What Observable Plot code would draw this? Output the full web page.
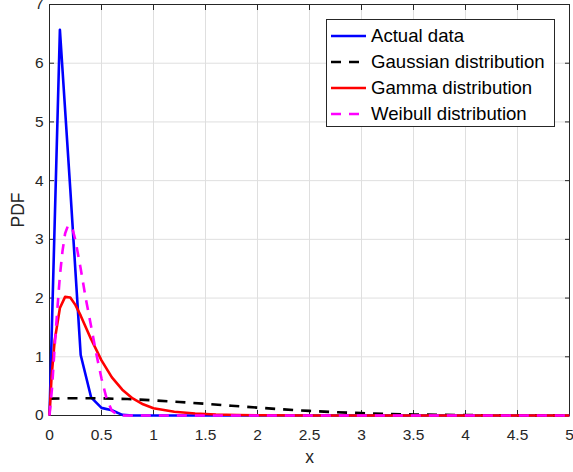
<!DOCTYPE html>
<html><head><meta charset="utf-8">
<script src="https://cdn.jsdelivr.net/npm/d3@7"></script>
<script src="https://cdn.jsdelivr.net/npm/@observablehq/plot@0.6"></script>
<style>
body{margin:0;background:#fff;font-family:"Liberation Sans",Arial,sans-serif;}
#wrap{position:relative;width:573px;height:472px;overflow:hidden;}
#legend{position:absolute;left:326px;top:19px;width:227px;height:106px;border:1px solid #262626;background:#fff;}
.row{position:absolute;left:0;height:26px;display:flex;align-items:center;font-size:18.6px;color:#000;white-space:nowrap;}
.row svg{margin-left:4px;margin-right:4px;}
</style></head><body><div id="wrap"></div>
<script>
// ---- data ----
const xTicks = [0, 0.5, 1, 1.5, 2, 2.5, 3, 3.5, 4, 4.5, 5];
const xTickLabels = ["0", "0.5", "1", "1.5", "2", "2.5", "3", "3.5", "4", "4.5", "5"];
const yTicks = [0, 1, 2, 3, 4, 5, 6, 7];
const yTickLabels = ["0", "1", "2", "3", "4", "5", "6", "7"];

const seriesNames = ["Actual data", "Gaussian distribution", "Gamma distribution", "Weibull distribution"];

const actualX = [0, 0.1, 0.2, 0.3, 0.4, 0.5, 0.6, 0.7, 0.8, 1, 1.5, 2, 2.5, 3, 3.5, 4, 4.5, 5];
const actualY = [0, 6.57, 3.85, 1.03, 0.31, 0.13, 0.09, 0.01, 0, 0, 0, 0, 0, 0, 0, 0, 0, 0];

const gaussX = [0, 0.25, 0.5, 0.75, 1, 1.25, 1.5, 1.75, 2, 2.25, 2.5, 2.75, 3, 3.25, 3.5, 3.75, 4, 4.5, 5];
const gaussY = [0.288, 0.295, 0.292, 0.28, 0.258, 0.231, 0.199, 0.166, 0.134, 0.104, 0.078, 0.057, 0.04, 0.027, 0.018, 0.011, 0.007, 0.002, 0.001];

const gammaX = [0, 0.02, 0.05, 0.1, 0.15, 0.2, 0.25, 0.3, 0.4, 0.5, 0.6, 0.7, 0.8, 0.9, 1.0, 1.2, 1.4, 1.6, 1.8, 2, 2.5, 3, 4, 5];
const gammaY = [0, 0.66, 1.28, 1.83, 2.02, 2.01, 1.88, 1.7, 1.3, 0.94, 0.65, 0.44, 0.29, 0.19, 0.125, 0.065, 0.035, 0.018, 0.009, 0.004, 0.001, 0, 0, 0];

const weibullX = [0, 0.025, 0.05, 0.075, 0.1, 0.125, 0.15, 0.175, 0.2, 0.225, 0.25, 0.3, 0.35, 0.4, 0.45, 0.5, 0.55, 0.6, 0.65, 0.7, 1, 2, 3, 4, 5];
const weibullY = [0, 0.48, 1.18, 1.8, 2.38, 2.8, 3.1, 3.22, 3.24, 3.15, 2.98, 2.5, 1.98, 1.52, 1.05, 0.63, 0.28, 0.08, 0.015, 0, 0, 0, 0, 0, 0];

const colors = ["#0000ff", "#000000", "#ff0000", "#ff00ff"];
const dashes = [null, "10,8", null, "10,8"];

// ---- build ----
const toRows = (xs, ys) => xs.map((x, i) => ({x, y: ys[i]}));
const series = [toRows(actualX, actualY), toRows(gaussX, gaussY), toRows(gammaX, gammaY), toRows(weibullX, weibullY)];

const axisColor = "#262626";
const chart = Plot.plot({
  width: 573, height: 472,
  marginLeft: 49, marginRight: 4, marginTop: 4, marginBottom: 57,
  style: {fontFamily: "'Liberation Sans', Arial, sans-serif", fontSize: "15.5px", color: axisColor, background: "#fff", overflow: "visible"},
  x: {domain: [0, 5]},
  y: {domain: [0, 7]},
  marks: [
    Plot.gridX(xTicks, {stroke: "#dfdfdf", strokeOpacity: 1}),
    Plot.gridY(yTicks, {stroke: "#dfdfdf", strokeOpacity: 1}),
    Plot.frame({stroke: axisColor, strokeWidth: 1}),
    Plot.axisX(xTicks, {anchor: "bottom", tickSize: -5, tickPadding: 18, stroke: axisColor,
      tickFormat: (d, i) => xTickLabels[xTicks.indexOf(d)], label: "x", labelAnchor: "center", labelArrow: "none", labelOffset: 47, fontSize: 15.5}),
    Plot.axisX(xTicks, {anchor: "top", tickSize: -5, stroke: axisColor, fill: "none", label: null}),
    Plot.axisY(yTicks, {anchor: "left", tickSize: -5, tickPadding: 11, stroke: axisColor,
      tickFormat: (d) => yTickLabels[yTicks.indexOf(d)], label: "PDF", labelAnchor: "center", labelArrow: "none", labelOffset: 38}),
    Plot.axisY(yTicks, {anchor: "right", tickSize: -5, stroke: axisColor, fill: "none", label: null}),
    ...series.map((data, i) => Plot.line(data, {x: "x", y: "y", stroke: colors[i], strokeWidth: 2.6,
      strokeDasharray: dashes[i] ?? undefined, strokeLinejoin: "round", strokeLinecap: "butt"}))
  ]
});

// make axis labels larger
chart.querySelectorAll("[aria-label='x-axis label'] text, [aria-label='y-axis label'] text").forEach(t => t.setAttribute("font-size", "17.5px"));

const wrap = document.getElementById("wrap");
wrap.appendChild(chart);

// legend overlay
const legend = document.createElement("div");
legend.id = "legend";
seriesNames.forEach((name, i) => {
  const row = document.createElement("div");
  row.className = "row";
  row.style.top = (3 + i * 26) + "px";
  const sw = d3.create("svg").attr("width", 36).attr("height", 10);
  sw.append("line").attr("x1", 0).attr("x2", 35).attr("y1", 5).attr("y2", 5)
    .attr("stroke", colors[i]).attr("stroke-width", 2.6).attr("stroke-dasharray", dashes[i]);
  row.appendChild(sw.node());
  const span = document.createElement("span");
  span.textContent = name;
  row.appendChild(span);
  legend.appendChild(row);
});
wrap.appendChild(legend);
</script>
</body></html>
